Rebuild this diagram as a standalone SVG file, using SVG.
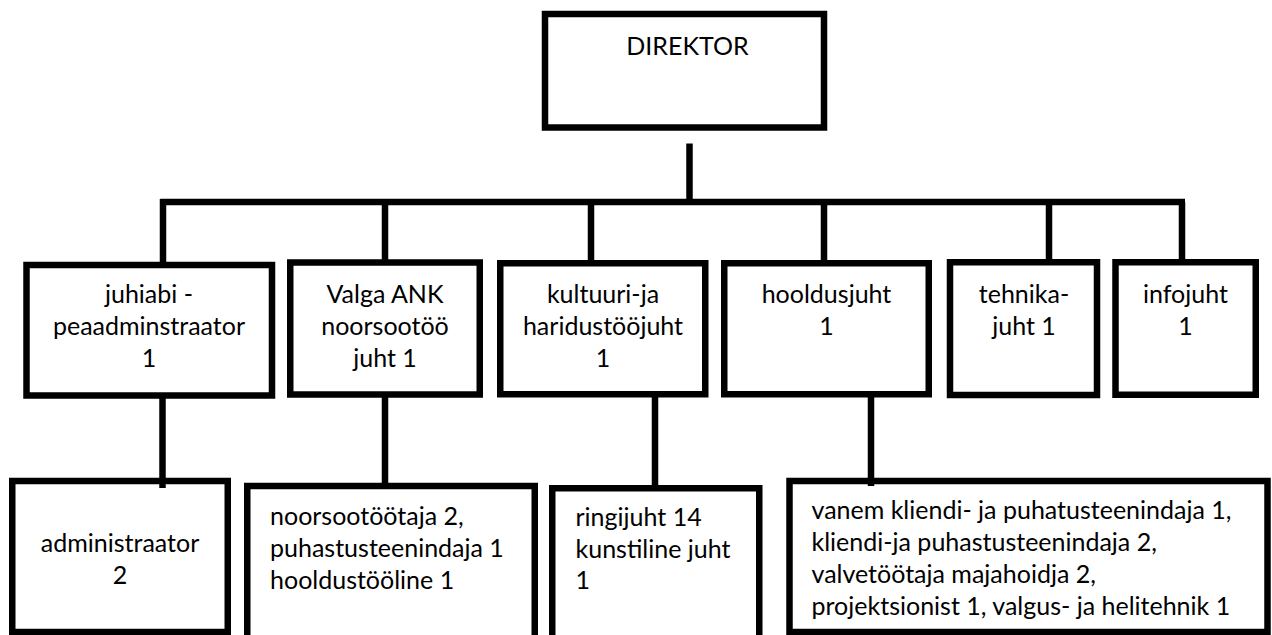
<svg xmlns="http://www.w3.org/2000/svg" width="1272" height="635" viewBox="0 0 1272 635">
  <style>
    .box { fill: #ffffff; stroke: #000000; stroke-width: 6.5; }
    .ln { fill: none; stroke: #000000; stroke-width: 6.5; stroke-linecap: butt; }
    .t { font-family: Lato, "Liberation Sans", sans-serif; font-size: 25px; fill: #000000; }
    .c { text-anchor: middle; }
  </style>
  <rect x="0" y="0" width="1272" height="635" fill="#ffffff"/>

  <g id="direktor">
    <rect class="box" x="545" y="14" width="279" height="113.5"/>
    <text class="t c" x="687.5" y="55">DIREKTOR</text>
  </g>

  <g id="juhiabi">
    <rect class="box" x="26.5" y="265" width="245.5" height="130.5"/>
    <text class="t c" x="149" y="302.5">juhiabi -</text>
    <text class="t c" x="149" y="334.5">peaadminstraator</text>
    <text class="t c" x="149" y="366.5">1</text>
  </g>

  <g id="valga">
    <rect class="box" x="290.25" y="262.5" width="189.5" height="132"/>
    <text class="t c" x="385" y="302.5">Valga ANK</text>
    <text class="t c" x="385" y="334.5">noorsootöö</text>
    <text class="t c" x="385" y="366.5">juht 1</text>
  </g>

  <g id="kultuur">
    <rect class="box" x="500.25" y="263.25" width="205" height="131"/>
    <text class="t c" x="603" y="302.5">kultuuri-ja</text>
    <text class="t c" x="603" y="334.5">haridustööjuht</text>
    <text class="t c" x="603" y="366.5">1</text>
  </g>

  <g id="hooldus">
    <rect class="box" x="724.25" y="263.25" width="204.5" height="131"/>
    <text class="t c" x="826.5" y="302.5">hooldusjuht</text>
    <text class="t c" x="826.5" y="334.5">1</text>
  </g>

  <g id="tehnika">
    <rect class="box" x="950" y="262.25" width="147" height="132.75"/>
    <text class="t c" x="1024" y="302.5">tehnika-</text>
    <text class="t c" x="1024" y="334.5">juht 1</text>
  </g>

  <g id="infojuht">
    <rect class="box" x="1115.5" y="262.25" width="140.25" height="132.5"/>
    <text class="t c" x="1185.5" y="302.5">infojuht</text>
    <text class="t c" x="1185.5" y="334.5">1</text>
  </g>

  <g id="administraator">
    <rect class="box" x="12.25" y="481" width="215.5" height="151"/>
    <text class="t c" x="120" y="552">administraator</text>
    <text class="t c" x="120" y="583.5">2</text>
  </g>

  <g id="noorsootootaja">
    <rect class="box" x="247.25" y="486" width="287.5" height="200"/>
    <text class="t" x="270" y="525">noorsootöötaja 2,</text>
    <text class="t" x="270" y="557">puhastusteenindaja 1</text>
    <text class="t" x="270" y="588.5">hooldustööline 1</text>
  </g>

  <g id="ringijuht">
    <rect class="box" x="552.25" y="488.25" width="207" height="200"/>
    <text class="t" x="575.5" y="526">ringijuht 14</text>
    <text class="t" x="575.5" y="557.5">kunstiline juht</text>
    <text class="t" x="575.5" y="589">1</text>
  </g>

  <g id="hooldustootajad">
    <rect class="box" x="789.5" y="481" width="478" height="151"/>
    <text class="t" x="811.5" y="518.5">vanem kliendi- ja puhatusteenindaja 1,</text>
    <text class="t" x="811.5" y="550.5">kliendi-ja puhastusteenindaja 2,</text>
    <text class="t" x="811.5" y="583">valvetöötaja majahoidja 2,</text>
    <text class="t" x="811.5" y="615">projektsionist 1, valgus- ja helitehnik 1</text>
  </g>

  <g id="connectors">
    <line class="ln" x1="689.5" y1="143.5" x2="689.5" y2="202"/>
    <line class="ln" x1="160.5" y1="202" x2="1185" y2="202"/>
    <line class="ln" x1="163" y1="199" x2="163" y2="262"/>
    <line class="ln" x1="385" y1="202" x2="385" y2="260"/>
    <line class="ln" x1="591" y1="202" x2="591" y2="260"/>
    <line class="ln" x1="824" y1="202" x2="824" y2="260"/>
    <line class="ln" x1="1049" y1="202" x2="1049" y2="259"/>
    <line class="ln" x1="1182" y1="202" x2="1182" y2="259"/>
    <line class="ln" x1="162.5" y1="398" x2="162.5" y2="488"/>
    <line class="ln" x1="385" y1="397" x2="385" y2="483"/>
    <line class="ln" x1="655" y1="397" x2="655" y2="486"/>
    <line class="ln" x1="871" y1="397" x2="871" y2="486"/>
  </g>
</svg>
